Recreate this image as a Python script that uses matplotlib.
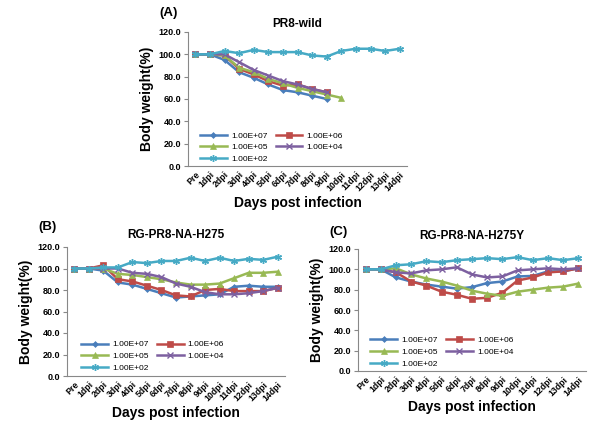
import matplotlib
matplotlib.use("Agg")
import matplotlib.pyplot as plt

plt.rcParams['font.family'] = ['Liberation Sans', 'DejaVu Sans']

days = ['Pre', '1dpi', '2dpi', '3dpi', '4dpi', '5dpi', '6dpi', '7dpi',
        '8dpi', '9dpi', '10dpi', '11dpi', '12dpi', '13dpi', '14dpi']
doses = ['1.00E+07', '1.00E+06', '1.00E+05', '1.00E+04', '1.00E+02']

# panel A : PR8-wild
a_e7 = [100, 100, 95, 84, 79, 73, 68, 66, 63, 60]
a_e6 = [100, 100, 99, 87, 82, 76, 72, 73, 69, 66]
a_e5 = [100, 100, 99, 88, 84, 78, 74, 70, 67, 64, 61]
a_e4 = [100, 100, 100, 93, 86, 81, 76, 73, 69, 66]
a_e2 = [100, 100, 103, 101, 104, 102, 102, 102, 99, 98, 103, 105, 105, 103, 105]

# panel B : RG-PR8-NA-H275
b_e7 = [100, 100, 98, 87, 85, 81, 77, 73, 74, 75, 76, 83, 84, 83, 83]
b_e6 = [100, 100, 103, 90, 88, 84, 80, 75, 74, 80, 81, 79, 79, 79, 82]
b_e5 = [100, 100, 100, 95, 94, 92, 90, 87, 85, 85, 86, 91, 96, 96, 97]
b_e4 = [100, 100, 100, 100, 96, 95, 92, 86, 83, 78, 76, 76, 77, 79, 82]
b_e2 = [100, 100, 101, 101, 106, 105, 107, 107, 110, 107, 110, 107, 109, 108, 111]

# panel C : RG-PR8-NA-H275Y
c_e7 = [100, 100, 92, 88, 85, 83, 81, 82.5, 86.5, 88, 93, 93.5, 98, 98, 101]
c_e6 = [100, 100, 97, 88, 84, 78, 75, 71, 72, 77, 89, 92, 97, 98, 101]
c_e5 = [100, 100, 101, 95, 91, 88, 84, 79, 76, 74, 78, 80, 82, 83, 86]
c_e4 = [100, 100, 97, 96, 99, 100, 102, 95, 92, 93, 99, 100, 101, 100, 101]
c_e2 = [100, 100, 104, 105, 108, 107, 109, 110, 111, 110, 112, 109, 111, 109, 111]

colors = ['#4A7EBB', '#BE4B48', '#98B954', '#7D60A0', '#46AAC5']
markers = ['D', 's', '^', 'x', (6, 2, 0)]
msizes = [3, 4.5, 4, 4.5, 5]

W, H = 602, 422
fig = plt.figure(figsize=(W / 100, H / 100), dpi=100)


def panel(px, letter, title, series, leg_anchor, letter_xy, title_y, xlab_y):
    l, r, t, b = px
    ax = fig.add_axes([l / W, 1 - b / H, (r - l) / W, (b - t) / H])
    lines = []
    for i, s in enumerate(series):
        ln, = ax.plot(range(len(s)), s, color=colors[i], marker=markers[i],
                      markersize=msizes[i], linewidth=1.8, label=doses[i],
                      markeredgewidth=1.0 if i >= 3 else 0.5)
        lines.append(ln)
    ax.set_xlim(-0.5, 14.5)
    ax.set_ylim(0, 120)
    ax.set_yticks(range(0, 121, 20))
    ax.set_yticklabels(['%.1f' % v for v in range(0, 121, 20)],
                       fontsize=6.5, fontweight='bold')
    ax.set_xticks(range(len(days)))
    ax.set_xticklabels(days, rotation=45, ha='right', rotation_mode='anchor',
                       fontsize=6.3, fontweight='bold')
    for sp in ['top', 'right']:
        ax.spines[sp].set_visible(False)
    for sp in ['left', 'bottom']:
        ax.spines[sp].set_color('#888888')
        ax.spines[sp].set_linewidth(0.8)
    ax.tick_params(axis='y', length=3, color='#888888', pad=2)
    ax.tick_params(axis='x', length=0, pad=3)
    ax.set_ylabel('Body weight(%)', fontsize=10, fontweight='bold', labelpad=3)
    fig.text((l + r) / 2 / W, 1 - xlab_y / H, 'Days post infection',
             fontsize=10, fontweight='bold', ha='center', va='center')
    fig.text((l + r) / 2 / W, 1 - title_y / H, title, fontsize=8.5,
             fontweight='bold', ha='center', va='center')
    fig.text(letter_xy[0] / W, 1 - letter_xy[1] / H, letter, fontsize=9.5,
             fontweight='bold', ha='left', va='center')
    # row-wise order: e7 e6 / e5 e4 / e2
    order = [0, 2, 4, 1, 3]
    ax.legend([lines[k] for k in order], [doses[k] for k in order],
              loc='upper left', bbox_to_anchor=leg_anchor, ncol=2,
              frameon=False, fontsize=6, handlelength=3.2,
              columnspacing=1.0, labelspacing=0.45, handletextpad=0.5,
              borderaxespad=0)
    return ax


panel((188, 407, 32, 166), '(A)', 'PR8-wild',
      [a_e7, a_e6, a_e5, a_e4, a_e2], (0.04, 0.28), (159, 13), 24, 203)
panel((67, 285, 247, 376), '(B)', 'RG-PR8-NA-H275',
      [b_e7, b_e6, b_e5, b_e4, b_e2], (0.05, 0.3), (38, 227), 235, 413)
panel((358, 586, 249, 371), '(C)', 'RG-PR8-NA-H275Y',
      [c_e7, c_e6, c_e5, c_e4, c_e2], (0.04, 0.31), (329, 232), 236, 407)

fig.savefig('out.png', dpi=100)
